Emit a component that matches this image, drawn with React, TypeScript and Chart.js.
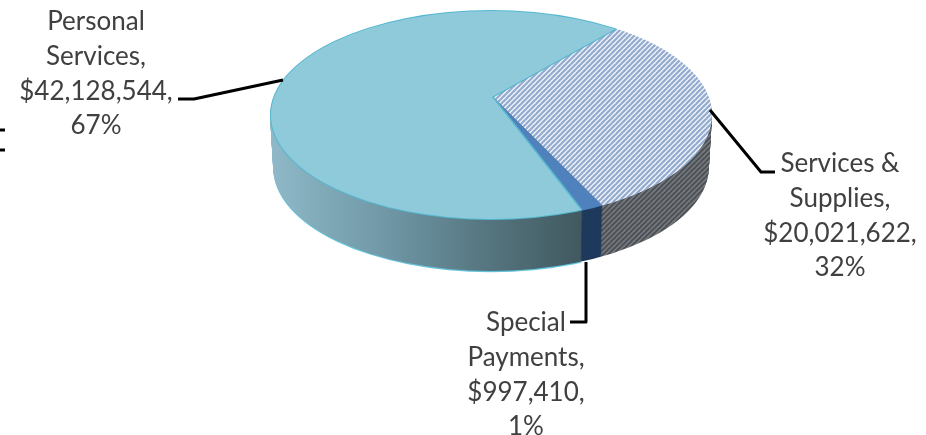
import React, { useEffect, useRef } from "react";
import { Chart, registerables } from "chart.js";

Chart.register(...registerables);

const categories = ["Personal Services", "Services & Supplies", "Special Payments"];
const values = [42128544, 20021622, 997410];
const labelLines = [
  ["Personal", "Services,", "$42,128,544,", "67%"],
  ["Services &", "Supplies,", "$20,021,622,", "32%"],
  ["Special", "Payments,", "$997,410,", "1%"],
];
const topColors = ["#8fcadb", "#dfe6ef", "#4f81bd"];
const sideColors = ["#5f8795", "#4d5359", "#1f3a5c"];

const labelCenters = [[96, 22], [840, 164], [526, 323]];
const leaders = [
  [[283, 80], [194, 99], [178, 99]],
  [[710, 110], [761, 172], [775, 172]],
  [[586, 262], [586, 322], [570, 322]],
];
// Rim ellipse (perspective puts the apex above the ellipse's centre)
const EX = 491, EY = 115, RX = 221, RY = 105, DEPTH = 52;
const AX = 493, AY = 97, KX = 221, KY_UP = 89, KY_DOWN = 125, OVER = 1.5;

function stripe(bg: string, fg: string, size: number, width: number) {
  const c = document.createElement("canvas");
  c.width = size;
  c.height = size;
  const g = c.getContext("2d")!;
  g.fillStyle = bg;
  g.fillRect(0, 0, size, size);
  g.strokeStyle = fg;
  g.lineWidth = width;
  for (let i = -size; i <= size; i += size) {
    g.beginPath();
    g.moveTo(i - 1, size + 1);
    g.lineTo(i + size + 1, -1);
    g.stroke();
  }
  return g.createPattern(c, "repeat")!;
}

const pie3d = {
  id: "pie3d",
  beforeDatasetsDraw(chart: any) {
    const ctx = chart.ctx as CanvasRenderingContext2D;
    const arcs = chart.getDatasetMeta(0).data;
    const { x: ox, y: oy, outerRadius: R } = arcs[0];
    const sx = (KX * OVER) / R;
    const hatchTop = stripe("#f1f4f9", "#93abce", 5, 2.2);
    const hatchSide = stripe("#4a4f55", "#74777b", 5, 1.8);
    const wall = ctx.createLinearGradient(ox + (272 - AX) / sx, 0, ox + (582 - AX) / sx, 0);
    wall.addColorStop(0, "#8fb9c8");
    wall.addColorStop(0.35, "#7199a8");
    wall.addColorStop(0.7, "#55757f");
    wall.addColorStop(1, "#41585f");

    const pass = (dy: number, inset: number, style: (i: number) => any, rays: boolean) => {
      const rx = RX - dy * 0.06 - inset;
      const ry = RY - dy * 0.02 - inset;
      [[-1000, AY + dy, KY_UP], [AY + dy, 1000, KY_DOWN]].forEach(([y0, y1, ky]) => {
        ctx.save();
        ctx.beginPath();
        ctx.ellipse(EX, EY + dy, rx, ry, 0, 0, Math.PI * 2);
        ctx.clip();
        ctx.beginPath();
        ctx.rect(0, y0, chart.width, y1 - y0);
        ctx.clip();
        ctx.translate(AX, AY + dy);
        ctx.scale(sx, (ky * OVER) / R);
        ctx.translate(-ox, -oy);
        arcs.forEach((arc: any, i: number) => {
          const fill = style(i);
          if (!fill) return;
          if (fill instanceof CanvasPattern) fill.setTransform(ctx.getTransform().inverse());
          const saved = arc.options;
          arc.options = {
            ...saved,
            backgroundColor: fill,
            borderWidth: rays && i === 0 ? 1.2 : 0,
            borderColor: "#58b7cf",
          };
          arc.draw(ctx);
          arc.options = saved;
        });
        ctx.restore();
      });
    };

    pass(DEPTH + 1.2, 0, (i) => (i === 0 ? "#62c3da" : null), false);
    for (let dy = DEPTH; dy >= 1; dy--) {
      pass(dy, 0, (i) => (i === 0 ? wall : i === 1 ? hatchSide : sideColors[2]), false);
    }
    pass(0, 0, (i) => (i === 0 ? "#55b8d0" : i === 1 ? hatchTop : topColors[i]), false);
    pass(0, 1, (i) => (i === 0 ? topColors[0] : null), true);
    return false;
  },
  afterDraw(chart: any) {
    const ctx = chart.ctx as CanvasRenderingContext2D;
    ctx.save();
    ctx.strokeStyle = "#000000";
    ctx.lineWidth = 3;
    ctx.lineJoin = "round";
    leaders.forEach((pts) => {
      ctx.beginPath();
      pts.forEach(([x, y], i) => (i ? ctx.lineTo(x, y) : ctx.moveTo(x, y)));
      ctx.stroke();
    });
    ctx.beginPath();
    ctx.moveTo(0, 130);
    ctx.lineTo(5, 130);
    ctx.moveTo(0, 150);
    ctx.lineTo(5, 150);
    ctx.stroke();
    ctx.fillStyle = "#404040";
    ctx.font = "26px Lato";
    ctx.textAlign = "center";
    ctx.textBaseline = "middle";
    labelLines.forEach((lines, i) => {
      lines.forEach((t, j) => {
        ctx.fillText(t, labelCenters[i][0], labelCenters[i][1] + j * 34.6);
      });
    });
    ctx.restore();
  },
};

export default function App() {
  const ref = useRef<HTMLCanvasElement>(null);
  useEffect(() => {
    document.body.style.margin = "0";
    const chart = new Chart(ref.current!, {
      type: "pie",
      data: {
        labels: categories,
        datasets: [{ data: values, backgroundColor: topColors, borderWidth: 0, hoverOffset: 0 }],
      },
      options: {
        responsive: false,
        animation: false,
        rotation: 156,
        plugins: { legend: { display: false }, tooltip: { enabled: false } },
      },
      plugins: [pie3d],
    });
    return () => chart.destroy();
  }, []);
  return <canvas ref={ref} width={926} height={435} style={{ display: "block" }} />;
}
